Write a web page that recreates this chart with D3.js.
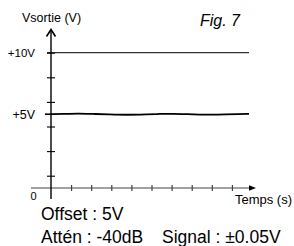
<!DOCTYPE html>
<html>
<head>
<meta charset="utf-8">
<script src="https://cdn.jsdelivr.net/npm/d3@7"></script>
<style>
  html, body { margin: 0; padding: 0; background: #fff; }
  svg { display: block; font-family: "Liberation Sans", Arial, sans-serif; }
</style>
</head>
<body>
<div id="chart"></div>
<script>
// time ticks (in divisions) and voltage ticks
var timeTicks = [1, 2, 3, 4, 5, 6, 7, 8, 9];
var voltTicks = [0, 2, 4, 6, 8, 10];
// labelled levels
var levelValues = [10, 5];
var levelLabels = ["+10V", "+5V"];
// output signal: 5V offset with a +/-0.05V ripple
var signalTime = [0, 0.6, 1.35, 2.1, 2.8, 3.8, 4.8, 5.4, 6.1, 6.8, 7.4, 8.0, 8.7, 9.3, 9.85];
var signalVolt = [5.0, 5.02, 5.06, 5.02, 4.99, 4.94, 4.99, 5.02, 5.04, 5.0, 4.97, 4.95, 4.98, 5.01, 5.02];
var notes = ["Offset : 5V", "Attén : -40dB", "Signal : ±0.05V"];

var width = 294, height = 246;
var svg = d3.select("#chart").append("svg")
    .attr("width", width)
    .attr("height", height);

var x = d3.scaleLinear().domain([0, 10]).range([51, 252]);
var y = d3.scaleLinear().domain([-1, 10]).range([188, 52.7]);
var axisY = y(-1);
var axisX = x(0);

// horizontal level lines
svg.append("line")
    .attr("x1", axisX - 4).attr("x2", x(9.85))
    .attr("y1", y(10)).attr("y2", y(10))
    .attr("stroke", "#333").attr("stroke-width", 1.3);

var line = d3.line()
    .x(function (d) { return x(d[0]); })
    .y(function (d) { return y(d[1]); })
    .curve(d3.curveBasis);
var pts = signalTime.map(function (t, i) { return [t, signalVolt[i]]; });
svg.append("line")
    .attr("x1", axisX - 6).attr("x2", x(0))
    .attr("y1", y(5)).attr("y2", y(5))
    .attr("stroke", "#000").attr("stroke-width", 1.6);
svg.append("path")
    .attr("d", line(pts))
    .attr("fill", "none")
    .attr("stroke", "#000")
    .attr("stroke-width", 1.8);

// x axis
var xAxis = d3.axisBottom(x).tickValues(timeTicks).tickSizeInner(6).tickSizeOuter(0).tickFormat("");
var gx = svg.append("g").attr("transform", "translate(0," + (axisY - 3) + ")").call(xAxis);
gx.select(".domain").remove();
gx.selectAll(".tick line").attr("stroke", "#333").attr("stroke-width", 1.1);
svg.append("line")
    .attr("x1", 31).attr("x2", 250)
    .attr("y1", axisY).attr("y2", axisY)
    .attr("stroke", "#444").attr("stroke-width", 1.2);
svg.append("path")
    .attr("d", "M249," + (axisY - 2.8) + "L256," + axisY + "L249," + (axisY + 2.8) + "Z")
    .attr("fill", "#000");

// y axis
var yAxis = d3.axisRight(y).tickValues(voltTicks).tickSizeInner(8).tickSizeOuter(0).tickFormat("");
var gy = svg.append("g").attr("transform", "translate(" + (axisX - 4) + ",0)").call(yAxis);
gy.select(".domain").remove();
gy.selectAll(".tick line").attr("stroke", "#000").attr("stroke-width", 1.1);
svg.append("line")
    .attr("x1", axisX).attr("x2", axisX)
    .attr("y1", 199).attr("y2", 30)
    .attr("stroke", "#000").attr("stroke-width", 1.4);
svg.append("path")
    .attr("d", "M" + (axisX - 4.5) + ",36.5L" + axisX + ",29.5L" + (axisX + 4.5) + ",36.5")
    .attr("fill", "none").attr("stroke", "#000").attr("stroke-width", 1.6);

// level labels
svg.selectAll("text.level")
    .data(levelValues)
    .enter().append("text")
    .attr("class", "level")
    .attr("x", 35)
    .attr("y", function (d) { return y(d); })
    .attr("dy", "0.36em")
    .attr("text-anchor", "end")
    .attr("font-size", function (d, i) { return i === 0 ? "11.5px" : "12.5px"; })
    .text(function (d, i) { return levelLabels[i]; });

svg.append("text").attr("x", 33.5).attr("y", 200).attr("text-anchor", "middle")
    .attr("font-size", "11px").text("0");
svg.append("text").attr("x", 22).attr("y", 22).attr("font-size", "12.5px").text("Vsortie (V)");
svg.append("text").attr("x", 200).attr("y", 26).attr("font-size", "16px")
    .attr("font-style", "italic").text("Fig. 7");
svg.append("text").attr("x", 292).attr("y", 204).attr("text-anchor", "end")
    .attr("font-size", "13px").text("Temps (s)");

svg.append("text").attr("x", 41).attr("y", 220).attr("font-size", "17.5px").text(notes[0]);
svg.append("text").attr("x", 41).attr("y", 243).attr("font-size", "17.5px").text(notes[1]);
svg.append("text").attr("x", 162).attr("y", 243)
    .attr("font-size", "17.5px").text(notes[2]);
</script>
</body>
</html>
